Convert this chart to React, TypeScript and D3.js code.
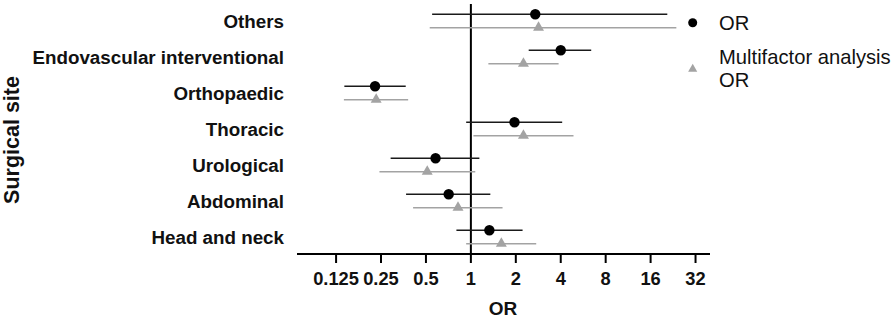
import React from "react";
import * as d3 from "d3";

const categories = ["Others", "Endovascular interventional", "Orthopaedic", "Thoracic", "Urological", "Abdominal", "Head and neck"];
const orValues = [2.7, 4.0, 0.228, 1.96, 0.58, 0.71, 1.33];
const orLow = [0.55, 2.44, 0.142, 0.93, 0.29, 0.368, 0.8];
const orHigh = [20.7, 6.4, 0.366, 4.09, 1.14, 1.35, 2.22];
const mfValues = [2.84, 2.25, 0.232, 2.25, 0.51, 0.82, 1.6];
const mfLow = [0.53, 1.31, 0.141, 1.04, 0.244, 0.41, 0.93];
const mfHigh = [23.8, 3.87, 0.38, 4.87, 1.07, 1.63, 2.74];
const tickValues = [0.125, 0.25, 0.5, 1, 2, 4, 8, 16, 32];
const tickLabels = ["0.125", "0.25", "0.5", "1", "2", "4", "8", "16", "32"];

export default function App() {
  const W = 896, H = 319;
  const x = d3.scaleLog().base(2).domain([0.0684, 40]).range([297, 710]);
  const y = d3.scalePoint().domain(categories).range([21, 237]);
  const axisY = 254;
  const off = 6.7;
  const dark = "#1a1a1a";
  const gray = "#a3a3a3";
  const font = "Liberation Sans, Arial, sans-serif";
  const tri = d3.symbol().type(d3.symbolTriangle).size(52)();
  const triLeg = d3.symbol().type(d3.symbolTriangle).size(36)();
  return (
    <svg width={W} height={H} style={{ position: "absolute", left: 0, top: 0 }} fontFamily={font}>
      <rect width={W} height={H} fill="#fff" />
      <text transform="translate(19,140) rotate(-90)" textAnchor="middle" fontSize={21.5} fontWeight="bold" fill="#111">Surgical site</text>
      {categories.map((c) => (
        <text key={c} x={284} y={(y(c) as number) + 6.8} textAnchor="end" fontSize={18.8} fontWeight="bold" fill="#111">{c}</text>
      ))}
      <line x1={x(1)} x2={x(1)} y1={4} y2={axisY} stroke="#000" strokeWidth={2} />
      <line x1={297} x2={710} y1={axisY} y2={axisY} stroke="#000" strokeWidth={2} />
      {tickValues.map((t, i) => (
        <g key={t}>
          <line x1={x(t)} x2={x(t)} y1={axisY} y2={axisY + 9} stroke="#000" strokeWidth={2} />
          <text x={x(t)} y={axisY + 31} textAnchor="middle" fontSize={18.3} fontWeight="bold" fill="#111">{tickLabels[i]}</text>
        </g>
      ))}
      <text x={503} y={315} textAnchor="middle" fontSize={19} fontWeight="bold" fill="#111">OR</text>
      {categories.map((c, i) => {
        const yc = y(c) as number;
        return (
          <g key={c}>
            <line x1={x(orLow[i])} x2={x(orHigh[i])} y1={yc - off} y2={yc - off} stroke={dark} strokeWidth={1.5} />
            <circle cx={x(orValues[i])} cy={yc - off} r={5.2} fill="#000" />
            <line x1={x(mfLow[i])} x2={x(mfHigh[i])} y1={yc + off} y2={yc + off} stroke={gray} strokeWidth={1.5} />
            <path d={tri as string} transform={`translate(${x(mfValues[i])},${yc + off})`} fill={gray} />
          </g>
        );
      })}
      <circle cx={692.7} cy={22.7} r={4.5} fill="#000" />
      <text x={719} y={29.5} fontSize={20.2} fill="#111">OR</text>
      <path d={triLeg as string} transform="translate(692.7,69)" fill={gray} />
      <text x={719} y={64} fontSize={20.2} fill="#111">Multifactor analysis</text>
      <text x={719} y={87} fontSize={20.2} fill="#111">OR</text>
    </svg>
  );
}
